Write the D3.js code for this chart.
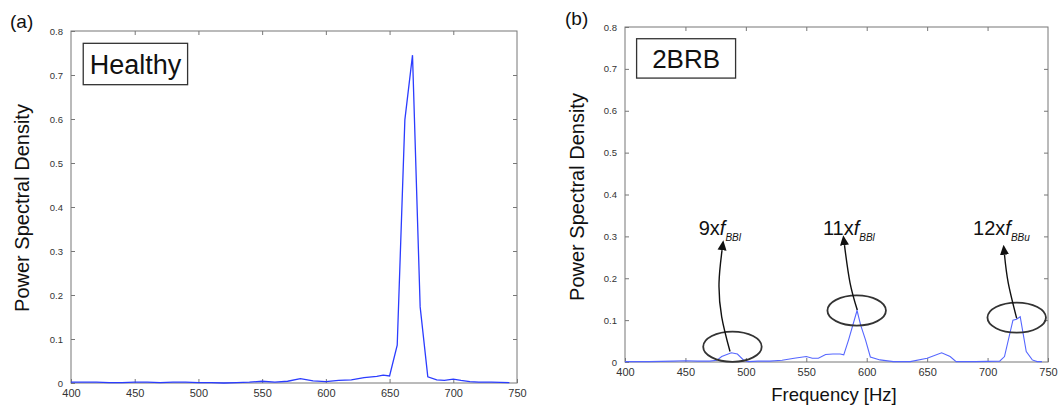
<!DOCTYPE html>
<html>
<head>
<meta charset="utf-8">
<script src="https://cdn.jsdelivr.net/npm/d3@7"></script>
<style>
  body { margin: 0; background: #fff; }
  svg text { font-family: "Liberation Sans", Arial, sans-serif; }
</style>
</head>
<body>
<div id="chart"></div>
<script>
// axis ticks shared by both panels
var xTicks = [400, 450, 500, 550, 600, 650, 700, 750];
var yTicks = [0, 0.1, 0.2, 0.3, 0.4, 0.5, 0.6, 0.7, 0.8];
var yTickLabels = ["0", "0.1", "0.2", "0.3", "0.4", "0.5", "0.6", "0.7", "0.8"];

// (a) healthy motor
var healthyFreq = [400, 410, 420, 430, 440, 450, 460, 470, 480, 490, 500, 510, 520, 530, 540,
  550, 560, 570, 580, 590, 600, 610, 620, 630, 640, 645, 650, 656, 662, 668, 674, 680, 687,
  693, 700, 706, 713, 720, 730, 744];
var healthyPsd = [0.002, 0.002, 0.002, 0.001, 0.001, 0.002, 0.002, 0.001, 0.002, 0.002, 0.001,
  0.001, 0.000, 0.001, 0.002, 0.004, 0.002, 0.004, 0.010, 0.005, 0.003, 0.006, 0.007, 0.012,
  0.015, 0.018, 0.016, 0.086, 0.598, 0.745, 0.173, 0.014, 0.007, 0.006, 0.009, 0.006, 0.003,
  0.002, 0.002, 0.001];

// (b) two broken rotor bars
var brbFreq = [400, 420, 440, 450, 460, 470, 476, 480, 488, 493, 498, 502, 510, 520, 530, 540,
  550, 555, 560, 566, 572, 578, 581, 585, 592, 595, 599, 603, 611, 622, 636, 650, 662, 669,
  674, 690, 710, 714, 721, 724, 727, 732, 737, 741, 745];
var brbPsd = [0.001, 0.001, 0.002, 0.003, 0.002, 0.002, 0.004, 0.013, 0.022, 0.019, 0.005,
  0.001, 0.002, 0.002, 0.004, 0.009, 0.013, 0.009, 0.009, 0.018, 0.019, 0.019, 0.017, 0.053,
  0.123, 0.088, 0.053, 0.012, 0.005, 0.001, 0.001, 0.009, 0.022, 0.013, 0.001, 0.001, 0.002,
  0.013, 0.100, 0.102, 0.108, 0.025, 0.005, 0.001, 0.001];

// harmonic annotations on (b), in data units
var harmonicMain = ["9x", "11x", "12x"];
var harmonicSub = ["BBl", "BBl", "BBu"];
var harmonicTextAt = [[461, 0.304], [563.8, 0.304], [688, 0.304]];
var arrowPaths = [
  [[480.3, 0.267], [477.8, 0.189], [480.0, 0.108], [486.9, 0.025]],
  [[581.6, 0.279], [586.2, 0.189], [592.2, 0.124]],
  [[714.0, 0.256], [717.1, 0.189], [724.1, 0.104]]
];
var ellipseCenters = [[488.9, 0.0365], [591.7, 0.123], [724.1, 0.106]];
var ellipseRadius = [24.2, 0.036]; // Hz, PSD

var W = 1059, H = 407;

var svg = d3.select("#chart")
  .append("svg")
    .attr("width", W)
    .attr("height", H);

svg.append("defs").append("marker")
    .attr("id", "head")
    .attr("markerUnits", "userSpaceOnUse")
    .attr("viewBox", "0 -5 10 10")
    .attr("refX", 0)
    .attr("refY", 0)
    .attr("markerWidth", 10)
    .attr("markerHeight", 10)
    .attr("orient", "auto-start-reverse")
  .append("path")
    .attr("d", "M0,-4.5L10,0L0,4.5Z")
    .attr("fill", "#111");

function panel(box, freq, psd, opts) {
  var x = d3.scaleLinear().domain([400, 750]).range([box.left, box.right]);
  var y = d3.scaleLinear().domain([0, 0.8]).range([box.bottom, box.top]);
  var g = svg.append("g");

  // frame
  g.append("rect")
    .attr("x", box.left).attr("y", box.top)
    .attr("width", box.right - box.left).attr("height", box.bottom - box.top)
    .attr("fill", "none").attr("stroke", "#777").attr("stroke-width", 1);

  // inward ticks on all four sides
  var tk = 4;
  var bottomAxis = g.append("g").attr("transform", "translate(0," + box.bottom + ")")
    .call(d3.axisBottom(x).tickValues(xTicks).tickSizeInner(-tk).tickSizeOuter(0).tickPadding(6));
  g.append("g").attr("transform", "translate(0," + box.top + ")")
    .call(d3.axisTop(x).tickValues(xTicks.slice(1, -1)).tickSizeInner(-tk).tickSizeOuter(0).tickFormat(""));
  var leftAxis = g.append("g").attr("transform", "translate(" + box.left + ",0)")
    .call(d3.axisLeft(y).tickValues(yTicks).tickSizeInner(-tk).tickSizeOuter(0).tickPadding(8)
      .tickFormat(function(d, i) { return yTickLabels[i]; }));
  g.append("g").attr("transform", "translate(" + box.right + ",0)")
    .call(d3.axisRight(y).tickValues(yTicks.slice(1, -1)).tickSizeInner(-tk).tickSizeOuter(0).tickFormat(""));

  g.selectAll(".domain").remove();
  g.selectAll(".tick line").attr("stroke", "#777");
  g.selectAll(".tick text").attr("fill", "#333").style("font-family", "Liberation Sans, Arial, sans-serif");
  bottomAxis.selectAll(".tick text").style("font-size", "11px");
  leftAxis.selectAll(".tick text").style("font-size", "9.5px");

  // spectrum
  g.append("path")
    .datum(d3.zip(freq, psd))
    .attr("fill", "none")
    .attr("stroke", opts.color)
    .attr("stroke-width", opts.width)
    .attr("d", d3.line()
      .x(function(d) { return x(d[0]); })
      .y(function(d) { return y(d[1]); }));

  // y label
  g.append("text")
    .attr("transform", "translate(" + opts.ylabelX + "," + opts.ylabelY + ") rotate(-90)")
    .attr("text-anchor", "middle")
    .style("font-size", "20px")
    .attr("fill", "#111")
    .text("Power Spectral Density");

  // name box
  var bx0 = x(409.6), bx1 = x(491.5), by0 = y(0.772), by1 = y(0.678);
  g.append("rect")
    .attr("x", bx0).attr("y", by0)
    .attr("width", bx1 - bx0).attr("height", by1 - by0)
    .attr("fill", "#fff").attr("stroke", "#333").attr("stroke-width", 1.3);
  g.append("text")
    .attr("x", (bx0 + bx1) / 2)
    .attr("y", (by0 + by1) / 2 + opts.nameSize * 0.36)
    .attr("text-anchor", "middle")
    .style("font-size", opts.nameSize + "px")
    .attr("fill", "#111")
    .text(opts.name);

  // panel letter
  svg.append("text")
    .attr("x", opts.letterX).attr("y", opts.letterY)
    .style("font-size", "19px")
    .attr("fill", "#111")
    .text(opts.letter);

  return {x: x, y: y, g: g};
}

var a = panel({left: 71, right: 517, top: 31, bottom: 383}, healthyFreq, healthyPsd,
  {color: "#2b3cff", width: 1.3, name: "Healthy", nameSize: 27, letter: "(a)",
   letterX: 10, letterY: 28, ylabelX: 29, ylabelY: 208});

var b = panel({left: 625, right: 1048, top: 27, bottom: 362}, brbFreq, brbPsd,
  {color: "#5566ff", width: 1.1, name: "2BRB", nameSize: 26, letter: "(b)",
   letterX: 565, letterY: 25, ylabelX: 584, ylabelY: 197});

// x label only under (b)
svg.append("text")
  .attr("x", 834).attr("y", 401)
  .attr("text-anchor", "middle")
  .style("font-size", "18.5px")
  .attr("fill", "#111")
  .text("Frequency [Hz]");

// ellipses round the harmonics
b.g.selectAll(".ring")
  .data(ellipseCenters)
  .enter().append("ellipse")
    .attr("class", "ring")
    .attr("cx", function(d) { return b.x(d[0]); })
    .attr("cy", function(d) { return b.y(d[1]); })
    .attr("rx", b.x(400 + ellipseRadius[0]) - b.x(400))
    .attr("ry", b.y(0) - b.y(ellipseRadius[1]))
    .attr("fill", "none")
    .attr("stroke", "#333")
    .attr("stroke-width", 1.8);

// arrows
b.g.selectAll(".arrow")
  .data(arrowPaths)
  .enter().append("path")
    .attr("class", "arrow")
    .attr("fill", "none")
    .attr("stroke", "#111")
    .attr("stroke-width", 1.4)
    .attr("marker-start", "url(#head)")
    .attr("d", d3.line()
      .x(function(d) { return b.x(d[0]); })
      .y(function(d) { return b.y(d[1]); })
      .curve(d3.curveNatural));

// harmonic labels
harmonicMain.forEach(function(m, i) {
  var t = b.g.append("text")
    .attr("x", b.x(harmonicTextAt[i][0]))
    .attr("y", b.y(harmonicTextAt[i][1]))
    .attr("fill", "#111")
    .style("font-size", "20px");
  t.append("tspan").text(m);
  t.append("tspan").style("font-style", "italic").text("f");
  t.append("tspan").style("font-style", "italic").style("font-size", "10px")
    .attr("dy", 6).text(harmonicSub[i]);
});
</script>
</body>
</html>
